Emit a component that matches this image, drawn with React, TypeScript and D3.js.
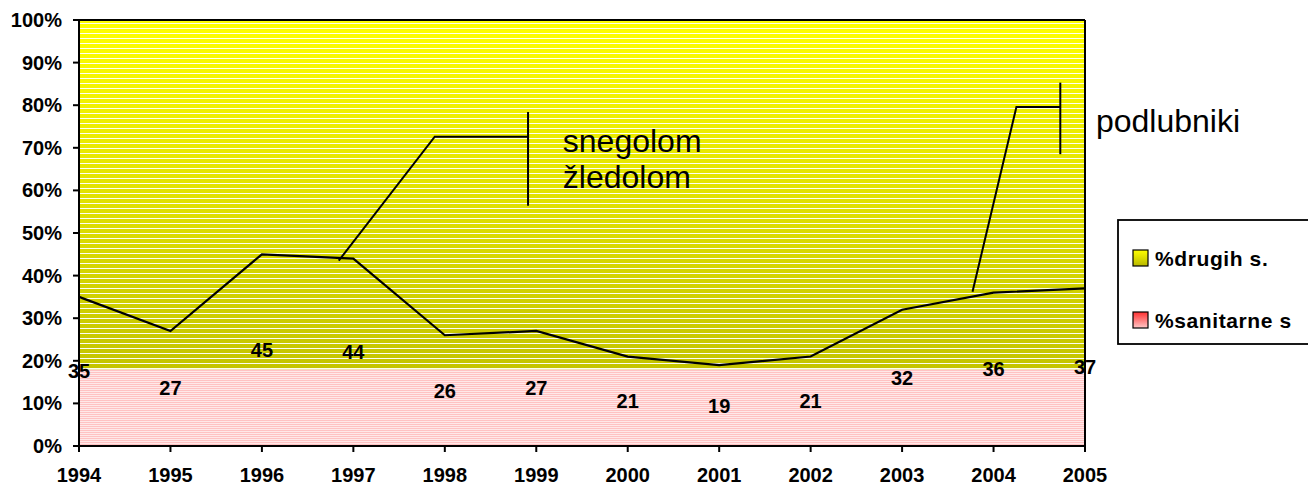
import React from 'react';
import * as d3 from 'd3';

const years = [1994, 1995, 1996, 1997, 1998, 1999, 2000, 2001, 2002, 2003, 2004, 2005];
// stacked 100% areas
const sanitarne = [18, 18, 18, 18, 18, 18, 18, 18, 18, 18, 18, 18];
const drugih = [82, 82, 82, 82, 82, 82, 82, 82, 82, 82, 82, 82];
// line series with its data labels
const lineValues = [35, 27, 45, 44, 26, 27, 21, 19, 21, 32, 36, 37];
const yTicks = [0, 10, 20, 30, 40, 50, 60, 70, 80, 90, 100];
const legendItems = ['%drugih s.', '%sanitarne s'];

// callouts, in data coordinates [year, percent]
const snegolomPath: [number, number][] = [[1996.84, 43.5], [1997.89, 72.6], [1998.91, 72.6]];
const snegolomBar: [number, number][] = [[1998.91, 78.4], [1998.91, 56.4]];
const snegolomText = ['snegolom', 'žledolom'];
const podlubPath: [number, number][] = [[2003.77, 36.2], [2004.25, 79.6], [2004.73, 79.6]];
const podlubBar: [number, number][] = [[2004.73, 85.3], [2004.73, 68.5]];

const W = 1308;
const H = 486;
const margin = { top: 20, right: 223, bottom: 40, left: 79 };
const font = '"Liberation Sans", Arial, sans-serif';

export default function App() {
  const x = d3.scaleLinear().domain([1994, 2005]).range([margin.left, W - margin.right]);
  const y = d3.scaleLinear().domain([0, 100]).range([H - margin.bottom, margin.top]);

  const rows = years.map((yr, i) => ({ year: yr, san: sanitarne[i], dru: drugih[i] }));
  const stack = d3.stack<any>().keys(['san', 'dru'])(rows);
  const area = d3
    .area<any>()
    .x((d) => x(d.data.year))
    .y0((d) => y(d[0]))
    .y1((d) => y(d[1]));

  const line = d3
    .line<number>()
    .x((_, i) => x(years[i]))
    .y((d) => y(d));
  const poly = d3
    .line<[number, number]>()
    .x((d) => x(d[0]))
    .y((d) => y(d[1]));

  const x0 = x(1994);
  const x1 = x(2005);
  const yTop = y(100);
  const yBot = y(0);

  return (
    <svg
      width={W}
      height={H}
      style={{ position: 'absolute', left: 0, top: 0, background: '#fff' }}
      fontFamily={font}
    >
      <defs>
        <linearGradient id="yel" gradientUnits="userSpaceOnUse" x1="0" y1={yTop} x2="0" y2={y(18)}>
          <stop offset="0" stopColor="#ffff00" />
          <stop offset="1" stopColor="#c4c400" />
        </linearGradient>
        <pattern id="yelStripe" patternUnits="userSpaceOnUse" width="10" height="5" y={yTop}>
          <rect x="0" y="3" width="10" height="1" fill="#ffffff" opacity="0.95" />
        </pattern>
        <pattern id="pinkStripe" patternUnits="userSpaceOnUse" width="10" height="2">
          <rect x="0" y="0" width="10" height="1" fill="#ffc2c2" />
          <rect x="0" y="1" width="10" height="1" fill="#ffe8e8" />
        </pattern>
        <linearGradient id="legY" x1="0" y1="0" x2="0" y2="1">
          <stop offset="0" stopColor="#ffff00" />
          <stop offset="1" stopColor="#b8b800" />
        </linearGradient>
        <linearGradient id="legP" x1="0" y1="0" x2="0" y2="1">
          <stop offset="0" stopColor="#ff3030" />
          <stop offset="1" stopColor="#ffc8c8" />
        </linearGradient>
      </defs>

      {/* stacked areas */}
      <path d={area(stack[0] as any) ?? ''} fill="url(#pinkStripe)" />
      <path d={area(stack[1] as any) ?? ''} fill="url(#yel)" />
      <path d={area(stack[1] as any) ?? ''} fill="url(#yelStripe)" />

      {/* callouts */}
      <path d={poly(snegolomPath) ?? ''} fill="none" stroke="#000" strokeWidth={2} />
      <path d={poly(snegolomBar) ?? ''} fill="none" stroke="#000" strokeWidth={2} />
      <path d={poly(podlubPath) ?? ''} fill="none" stroke="#000" strokeWidth={2} />
      <path d={poly(podlubBar) ?? ''} fill="none" stroke="#000" strokeWidth={2} />
      {snegolomText.map((t, i) => (
        <text key={t} x={x(1999.29)} y={y(69.1) + i * 36.5} fontSize={32}>
          {t}
        </text>
      ))}
      <text x={x(2005.12)} y={y(73.8)} fontSize={32}>
        podlubniki
      </text>

      {/* series line */}
      <path d={line(lineValues) ?? ''} fill="none" stroke="#000" strokeWidth={2.2} />

      {/* frame */}
      <line x1={x0} x2={x1} y1={yTop} y2={yTop} stroke="#000" strokeWidth={2} />
      <line x1={x1} x2={x1} y1={yTop} y2={yBot} stroke="#000" strokeWidth={2} />
      <line x1={x0} x2={x0} y1={yTop} y2={yBot} stroke="#000" strokeWidth={2} />
      <line x1={x0} x2={x1} y1={yBot} y2={yBot} stroke="#000" strokeWidth={2} />

      {/* y axis */}
      {yTicks.map((t) => (
        <g key={t}>
          <line x1={x0 - 6} x2={x0} y1={y(t)} y2={y(t)} stroke="#000" strokeWidth={2} />
          <text
            x={62}
            y={y(t)}
            textAnchor="end"
            dominantBaseline="central"
            fontSize={20}
            fontWeight="bold"
          >
            {t}%
          </text>
        </g>
      ))}

      {/* x axis */}
      {years.map((yr) => (
        <g key={yr}>
          <line x1={x(yr)} x2={x(yr)} y1={yBot} y2={yBot + 6} stroke="#000" strokeWidth={2} />
          <text x={x(yr)} y={482} textAnchor="middle" fontSize={20} fontWeight="bold">
            {yr}
          </text>
        </g>
      ))}

      {/* data labels */}
      {lineValues.map((v, i) => (
        <text
          key={i}
          x={x(years[i])}
          y={y(v / 2)}
          textAnchor="middle"
          dominantBaseline="central"
          fontSize={20}
          fontWeight="bold"
        >
          {v}
        </text>
      ))}

      {/* legend */}
      <rect x={1118} y={220} width={200} height={124} fill="#fff" stroke="#000" strokeWidth={1.8} />
      {legendItems.map((name, i) => (
        <g key={name} transform={`translate(1133, ${250 + i * 62})`}>
          <rect
            width={15}
            height={16}
            fill={i === 0 ? 'url(#legY)' : 'url(#legP)'}
            stroke="#000"
            strokeWidth={1.2}
          />
          <text x={22} y={15.5} fontSize={21} fontWeight="bold" letterSpacing={0.6}>
            {name}
          </text>
        </g>
      ))}
    </svg>
  );
}
